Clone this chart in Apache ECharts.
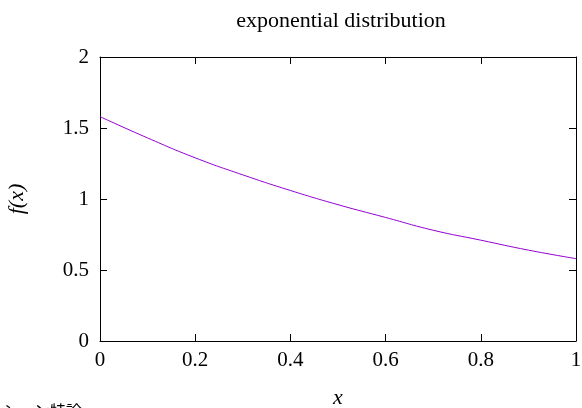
<!DOCTYPE html>
<html>
<head>
<meta charset="utf-8">
<script src="https://cdn.jsdelivr.net/npm/echarts@6/dist/echarts.min.js"></script>
<style>
  html, body { margin: 0; padding: 0; background: #fff; }
  #chart { width: 582px; height: 408px; }
</style>
</head>
<body>
<div id="chart"></div>
<script>
// values
var xs = [0, 0.1, 0.2, 0.3, 0.4, 0.5, 0.6, 0.7, 0.8, 0.9, 1.0];
var fx = [1.58, 1.43, 1.29, 1.17, 1.06, 0.96, 0.87, 0.78, 0.71, 0.64, 0.58];
var titleText = 'exponential distribution';
var footerText = 'シミュレーション特論';

var serif = '"Liberation Serif", "DejaVu Serif", serif';
var points = xs.map(function (x, i) { return [x, fx[i]]; });

var chart = echarts.init(document.getElementById('chart'));

// mirrored axes make the closed frame with inward ticks
function xAx(pos, labels) {
  return {
    type: 'value', position: pos, min: 0, max: 1, interval: 0.2,
    axisLine: { show: true, onZero: false, lineStyle: { color: '#000', width: 1 } },
    axisTick: { show: true, inside: true, length: 7, lineStyle: { color: '#000' } },
    axisLabel: { show: labels, color: '#000', fontFamily: serif, fontSize: 21, margin: 9 },
    splitLine: { show: false }
  };
}
function yAx(pos, labels) {
  return {
    type: 'value', position: pos, min: 0, max: 2, interval: 0.5,
    axisLine: { show: true, onZero: false, lineStyle: { color: '#000', width: 1 } },
    axisTick: { show: true, inside: true, length: 7, lineStyle: { color: '#000' } },
    axisLabel: { show: labels, color: '#000', fontFamily: serif, fontSize: 21, margin: 11 },
    splitLine: { show: false }
  };
}

var bottomX = xAx('bottom', true);
bottomX.name = 'x';
bottomX.nameLocation = 'middle';
bottomX.nameGap = 46;
bottomX.nameTextStyle = { color: '#000', fontFamily: serif, fontStyle: 'italic', fontSize: 22 };

var leftY = yAx('left', true);
leftY.name = 'f(x)';
leftY.nameLocation = 'middle';
leftY.nameRotate = 90;
leftY.nameGap = 72;
leftY.nameTextStyle = { color: '#000', fontFamily: serif, fontStyle: 'italic', fontSize: 22 };

var option = {
  animation: false,
  backgroundColor: '#fff',
  title: {
    text: titleText,
    left: 336, top: 5, textAlign: 'center',
    textStyle: { color: '#000', fontFamily: serif, fontWeight: 'normal', fontSize: 22 }
  },
  grid: { left: 100, right: 6, top: 57, bottom: 67, outerBoundsMode: 'none', containLabel: false },
  xAxis: [bottomX, xAx('top', false)],
  yAxis: [leftY, yAx('right', false)],
  series: [{
    type: 'line',
    data: points,
    smooth: true,
    showSymbol: false,
    lineStyle: { color: '#9400d3', width: 1 }
  }],
  graphic: [{
    type: 'text',
    left: -78, top: 403,
    style: { text: footerText, fill: '#000', font: '16px "Noto Sans CJK JP"' }
  }]
};
chart.setOption(option);
</script>
</body>
</html>
